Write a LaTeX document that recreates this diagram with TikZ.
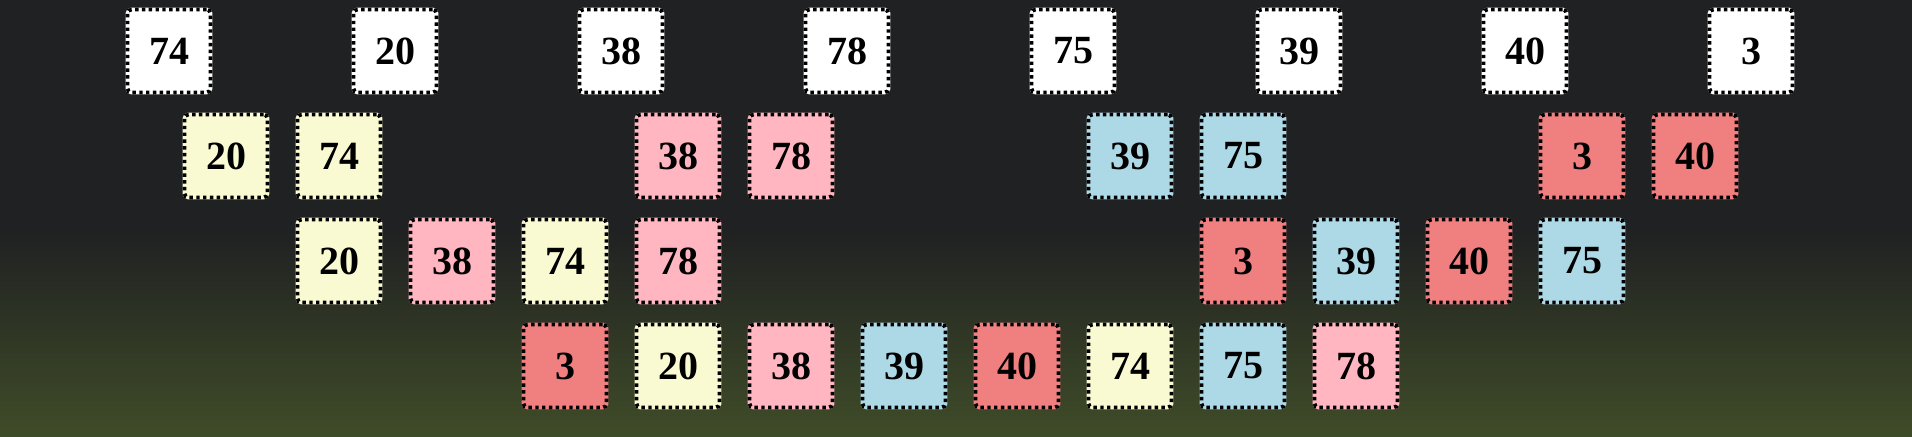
\documentclass[tikz,border=0pt]{standalone}
\usepackage{fontspec}
\setmainfont{Liberation Serif}
\definecolor{bgTop}{HTML}{202122}
\definecolor{bgBot}{HTML}{3F4C28}
\definecolor{cYel}{HTML}{FAFAD2}
\definecolor{cPink}{HTML}{FFB6C1}
\definecolor{cBlue}{HTML}{ADD8E6}
\definecolor{cCoral}{HTML}{F08080}

\begin{document}
\begin{tikzpicture}[x=0.5pt,y=-0.5pt,
  cell/.style={draw=black,fill=#1,line width=1.9pt,dash pattern=on 1.7pt off 1.7pt,
    rounded corners=2pt,minimum size=41.5pt,inner sep=0pt,
    font=\bfseries\fontsize{20}{24}\selectfont,preaction={draw=#1,solid}},
  cell/.default=white]
\useasboundingbox (0,0) rectangle (1912,437);
\fill[bgTop] (0,0) rectangle (1912,231);
\shade[top color=bgTop,bottom color=bgBot] (0,230) rectangle (1912,437);
\foreach \v [count=\i from 0] in {74,20,38,78,75,39,40,3}
  \node[cell] (top\i) at (169+226*\i,51) {\v};
\foreach \v/\c/\x [count=\i] in {20/cYel/226,74/cYel/339,38/cPink/678,78/cPink/791,
    39/cBlue/1130,75/cBlue/1243,3/cCoral/1582,40/cCoral/1695}
  \node[cell=\c] (pair\i) at (\x,156) {\v};
\foreach \v/\c/\x [count=\i] in {20/cYel/339,38/cPink/452,74/cYel/565,78/cPink/678,
    3/cCoral/1243,39/cBlue/1356,40/cCoral/1469,75/cBlue/1582}
  \node[cell=\c] (quad\i) at (\x,261) {\v};
\foreach \v/\c [count=\i from 0] in {3/cCoral,20/cYel,38/cPink,39/cBlue,40/cCoral,
    74/cYel,75/cBlue,78/cPink}
  \node[cell=\c] (sorted\i) at (565+113*\i,366) {\v};
\end{tikzpicture}
\end{document}
